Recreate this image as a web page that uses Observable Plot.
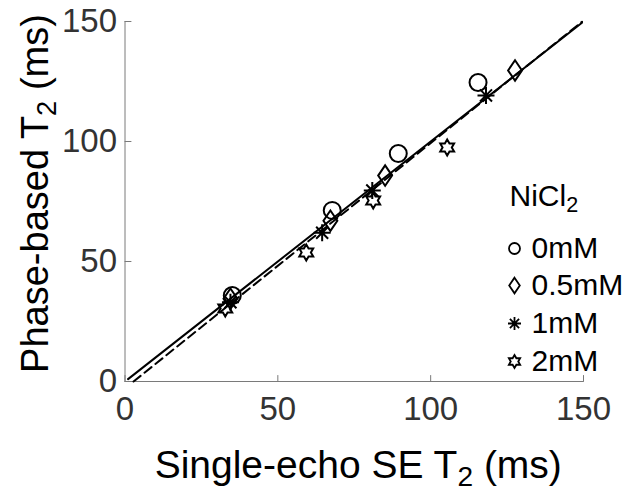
<!DOCTYPE html>
<html><head><meta charset="utf-8">
<script src="https://cdn.jsdelivr.net/npm/d3@7"></script>
<script src="https://cdn.jsdelivr.net/npm/@observablehq/plot@0.6"></script>
<style>
html,body{margin:0;padding:0;background:#fff;}
#chart{position:relative;width:637px;height:496px;}
</style></head><body><div id="chart"></div>
<script>
// ---- data ----
const groups = ["0mM", "0.5mM", "1mM", "2mM"];
const legendTitle = "NiCl_2";
const x0mM  = [35.1, 67.8, 89.4, 115.5];
const y0mM  = [35.8, 71.3, 95.0, 124.6];
const x05mM = [34.5, 67.2, 85.1, 127.6];
const y05mM = [34.5, 67.0, 85.8, 129.6];
const x1mM  = [34.5, 64.5, 80.9, 118.1];
const y1mM  = [33.0, 62.0, 79.6, 119.2];
const x2mM  = [32.8, 59.3, 81.2, 105.4];
const y2mM  = [30.4, 53.8, 75.4, 97.5];
const xTicks = [0, 50, 100, 150];
const yTicks = [0, 50, 100, 150];
const identityX = [1, 149.5];
const identityY = [1, 149.5];
const fitX = [2.8, 149.5];
const fitY = [0, 149.9];
const xLabel = "Single-echo SE T_2 (ms)";
const yLabel = "Phase-based T_2 (ms)";

// ---- symbols ----
const rad = s => Math.sqrt(s / Math.PI);
const symCircle = {draw(c, s) { const r = rad(s); c.moveTo(r, 0); c.arc(0, 0, r, 0, 2 * Math.PI); c.closePath(); }};
const symDiamond = {draw(c, s) { const r = rad(s) * 1.2, w = r * 0.68; c.moveTo(0, -r); c.lineTo(w, 0); c.lineTo(0, r); c.lineTo(-w, 0); c.closePath(); }};
const symAster = {draw(c, s) { const r = rad(s), d = r * Math.SQRT1_2;
  c.moveTo(-r, 0); c.lineTo(r, 0); c.moveTo(0, -r); c.lineTo(0, r);
  c.moveTo(-d, -d); c.lineTo(d, d); c.moveTo(-d, d); c.lineTo(d, -d); }};
const symHex = {draw(c, s) { const r = rad(s), ri = r / Math.sqrt(3);
  for (let i = 0; i < 12; i++) { const a = -Math.PI / 2 + i * Math.PI / 6, rr = i % 2 ? ri : r;
    const px = rr * Math.cos(a), py = rr * Math.sin(a); if (i) c.lineTo(px, py); else c.moveTo(px, py); }
  c.closePath(); }};
const tickShape = {draw(c, l) { c.moveTo(0, 0); c.lineTo(0, -l); }};

const series = [
  {name: groups[0], xs: x0mM,  ys: y0mM,  sym: symCircle,  r: 8.5, lr: 5.5},
  {name: groups[1], xs: x05mM, ys: y05mM, sym: symDiamond, r: 8.5, lr: 6.5},
  {name: groups[2], xs: x1mM,  ys: y1mM,  sym: symAster,   r: 8.5, lr: 6.5},
  {name: groups[3], xs: x2mM,  ys: y2mM,  sym: symHex,     r: 8,   lr: 6.5}
];

const rowDy = [227, 264, 302, 340];
const F = "Liberation Sans, Arial, Helvetica, sans-serif";

const marks = [
  Plot.ruleY([0], {stroke: "#7a7a7a", strokeWidth: 1}),
  Plot.ruleX([0], {stroke: "#7a7a7a", strokeWidth: 1}),
  Plot.vector(xTicks, {x: d => d, y: () => 0, length: 6, rotate: 0, anchor: "start", shape: tickShape, stroke: "#7a7a7a", strokeWidth: 1}),
  Plot.vector(yTicks, {x: () => 0, y: d => d, length: 6, rotate: 90, anchor: "start", shape: tickShape, stroke: "#7a7a7a", strokeWidth: 1}),
  Plot.axisX(xTicks, {tickSize: 0, tickPadding: 15, fontSize: 33, color: "#333", label: null}),
  Plot.axisY(yTicks, {tickSize: 0, tickPadding: 8, fontSize: 33, color: "#333", label: null}),
  Plot.line(d3.zip(identityX, identityY), {x: d => d[0], y: d => d[1], stroke: "black", strokeWidth: 2}),
  Plot.line(d3.zip(fitX, fitY), {x: d => d[0], y: d => d[1], stroke: "black", strokeWidth: 2, strokeDasharray: "9,5"}),
  ...series.map(s => Plot.dot(d3.zip(s.xs, s.ys), {x: d => d[0], y: d => d[1], symbol: s.sym, r: s.r, stroke: "black", strokeWidth: 2, fill: "none"})),
  // legend
  Plot.text([legendTitle], {frameAnchor: "top-left", dx: 384.5, dy: 184, textAnchor: "start", lineAnchor: "bottom", fontSize: 30, fill: "black"}),
  ...series.map((s, i) => Plot.dot([s.name], {frameAnchor: "top-left", dx: 389.5, dy: rowDy[i], symbol: s.sym, r: s.lr, stroke: "black", strokeWidth: 1.8, fill: "none"})),
  ...series.map((s, i) => Plot.text([s.name], {frameAnchor: "top-left", dx: 406.5, dy: rowDy[i], textAnchor: "start", lineAnchor: "middle", fontSize: 30, fill: "black"})),
  // axis labels
  Plot.text([xLabel], {frameAnchor: "bottom", dx: 4, dy: 96, textAnchor: "middle", lineAnchor: "bottom", fontSize: 39, fill: "black"}),
  Plot.text([yLabel], {frameAnchor: "left", dx: -77, dy: -8, rotate: -90, textAnchor: "middle", lineAnchor: "bottom", fontSize: 38, fill: "black"})
];

const svg = Plot.plot({
  width: 637, height: 496,
  marginLeft: 124.5, marginRight: 54, marginTop: 21, marginBottom: 115,
  x: {domain: [0, 150]}, y: {domain: [0, 150]},
  style: {fontFamily: F, background: "white", overflow: "visible"},
  marks
});

// subscripts
svg.querySelectorAll("text").forEach(t => {
  const s = t.textContent;
  if (!s.includes("_2")) return;
  const g = t.closest("g[font-size]");
  const fs = g ? parseFloat(g.getAttribute("font-size")) : 30;
  const [a, b] = s.split("_2");
  t.textContent = "";
  const ns = "http://www.w3.org/2000/svg";
  const t1 = document.createElementNS(ns, "tspan"); t1.textContent = a; t.appendChild(t1);
  const t2 = document.createElementNS(ns, "tspan"); t2.textContent = "2";
  t2.setAttribute("font-size", (fs * 0.72).toFixed(1)); t2.setAttribute("dy", (fs * 0.22).toFixed(1)); t.appendChild(t2);
  if (b) { const t3 = document.createElementNS(ns, "tspan"); t3.textContent = b; t3.setAttribute("dy", (-fs * 0.22).toFixed(1)); t.appendChild(t3); }
});

document.getElementById("chart").appendChild(svg);
</script></body></html>
